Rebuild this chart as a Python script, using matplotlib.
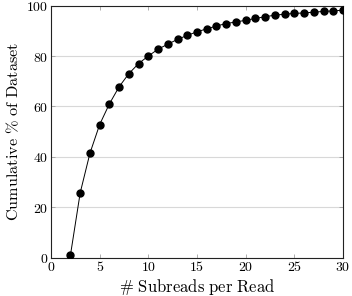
import matplotlib
matplotlib.use("Agg")
import matplotlib.pyplot as plt
from matplotlib.ticker import FuncFormatter

subreads = [2, 3, 4, 5, 6, 7, 8, 9, 10, 11, 12, 13, 14, 15, 16,
            17, 18, 19, 20, 21, 22, 23, 24, 25, 26, 27, 28, 29, 30]
cumulative_pct = [1.0, 25.7, 41.4, 52.8, 61.0, 67.8, 73.0, 77.0, 80.0, 82.7,
                  84.7, 86.6, 88.2, 89.6, 90.8, 91.9, 92.9, 93.5, 94.2, 94.9,
                  95.6, 96.2, 96.6, 96.9, 97.1, 97.4, 97.7, 97.9, 98.2]
xticks = [0, 5, 10, 15, 20, 25, 30]
yticks = [0, 20, 40, 60, 80, 100]
xlabel = "# Subreads per Read"
ylabel = "Cumulative % of Dataset"

plt.rcParams['mathtext.fontset'] = 'cm'
plt.rcParams['font.family'] = ['DejaVu Serif']

fig = plt.figure(figsize=(3.52, 2.96), dpi=100)
ax = fig.add_axes([0.1449, 0.13, 0.8295, 0.851])

ax.plot(subreads, cumulative_pct, color='black', lw=0.7, marker='o',
        markersize=5, markerfacecolor='black', markeredgecolor='black', zorder=3)

ax.set_xlim(0, 30)
ax.set_ylim(0, 100)
ax.set_xticks(xticks)
ax.set_yticks(yticks)
fmt = FuncFormatter(lambda v, p: r'$%d$' % v)
ax.xaxis.set_major_formatter(fmt)
ax.yaxis.set_major_formatter(fmt)
ax.tick_params(direction='in', length=3, width=0.6, color='#a0a0a0',
               labelsize=10, top=True, right=True, pad=2)
ax.grid(axis='y', color='#d8d8d8', lw=0.8, zorder=0)
ax.set_axisbelow(True)
for s in ax.spines.values():
    s.set_linewidth(0.8)
    s.set_color('#222222')

ax.set_xlabel(r'$\#\ \mathrm{Subreads\ per\ Read}$', fontsize=12, labelpad=2)
ax.set_ylabel(r'$\mathrm{Cumulative\ \%\ of\ Dataset}$', fontsize=11.7, labelpad=3)

fig.savefig('out.png', dpi=100)
